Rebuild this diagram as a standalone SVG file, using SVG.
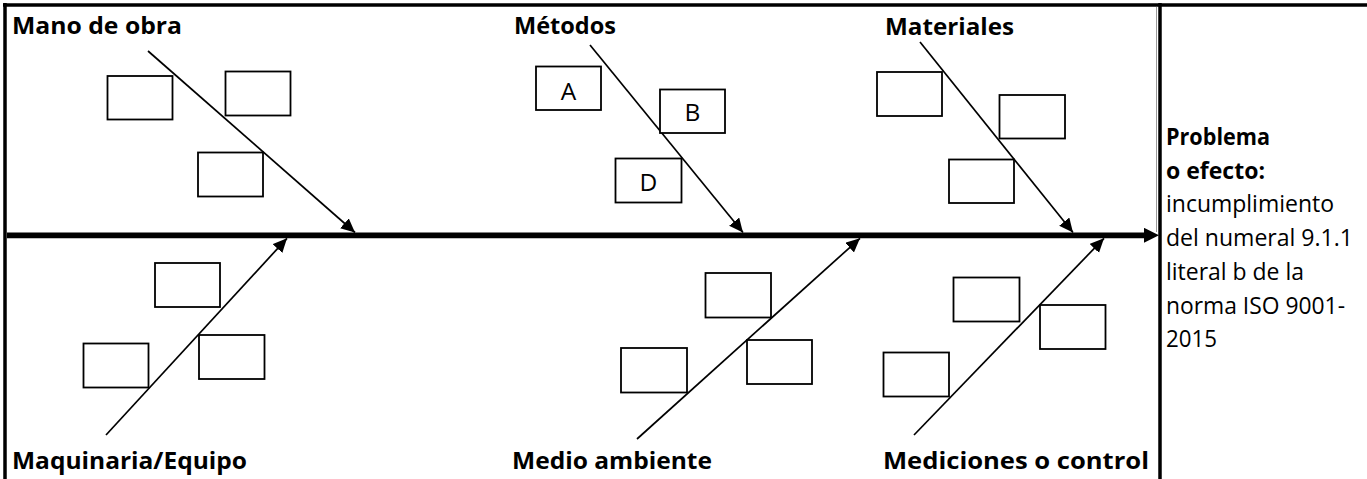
<svg xmlns="http://www.w3.org/2000/svg" width="1367" height="479" viewBox="0 0 1367 479">
<style>
.lbl{font-family:"Open Sans","Liberation Sans",sans-serif;font-weight:bold;font-size:23.5px;fill:#000}
.txt{font-family:"Open Sans","Liberation Sans",sans-serif;font-size:23px;fill:#000}
.let{font-family:"Open Sans","Liberation Sans",sans-serif;font-size:24.5px;fill:#000;text-anchor:middle}
.box{fill:#fff;stroke:#000;stroke-width:1.8}
.bone{stroke:#000;stroke-width:1.7;fill:none}
.frame{stroke:#000;stroke-width:3.5;fill:none}
</style>
<defs>
<marker id="ah" markerUnits="userSpaceOnUse" markerWidth="15" markerHeight="14" refX="14" refY="6.5" orient="auto">
<path d="M0,0 L14,6.5 L0,13 z" fill="#000"/>
</marker>
<marker id="sh" markerUnits="userSpaceOnUse" markerWidth="16" markerHeight="16" refX="2" refY="7.5" orient="auto">
<path d="M0,0 L15,7.5 L0,15 z" fill="#000"/>
</marker>
</defs>
<rect x="0" y="0" width="1367" height="479" fill="#fff"/>
<g id="frame">
<line class="frame" x1="3" y1="5" x2="1367" y2="5"/>
<line class="frame" x1="5" y1="3" x2="5" y2="479"/>
<line class="frame" x1="1160" y1="3" x2="1160" y2="479"/>
<line x1="1156.5" y1="7" x2="1156.5" y2="232" stroke="#9a9a9a" stroke-width="1"/>
</g>
<g id="connectors">
<line x1="7" y1="235.3" x2="1146" y2="235.3" stroke="#000" stroke-width="5.8" marker-end="url(#sh)"/>
<line class="bone" x1="148" y1="51" x2="355" y2="232.5" marker-end="url(#ah)"/>
<line class="bone" x1="590" y1="45" x2="743" y2="232.5" marker-end="url(#ah)"/>
<line class="bone" x1="920" y1="42" x2="1073" y2="232.5" marker-end="url(#ah)"/>
<line class="bone" x1="106" y1="435" x2="287" y2="238.3" marker-end="url(#ah)"/>
<line class="bone" x1="637" y1="439" x2="860" y2="238.3" marker-end="url(#ah)"/>
<line class="bone" x1="914" y1="435" x2="1104" y2="238.3" marker-end="url(#ah)"/>
</g>
<g id="mano-de-obra">
<text class="lbl" x="12" y="34" textLength="170" lengthAdjust="spacingAndGlyphs">Mano de obra</text>
<rect class="box" x="107.5" y="76" width="65" height="43.5"/>
<rect class="box" x="225.5" y="71.5" width="65" height="44"/>
<rect class="box" x="198" y="152.5" width="65" height="44"/>
</g>
<g id="metodos">
<text class="lbl" x="514" y="33.5" textLength="102" lengthAdjust="spacingAndGlyphs">Métodos</text>
<rect class="box" x="536" y="66.5" width="65" height="43.5"/>
<text class="let" x="568.5" y="99.5">A</text>
<rect class="box" x="660" y="89.5" width="65" height="43.5"/>
<text class="let" x="692.5" y="120.5">B</text>
<rect class="box" x="615.5" y="158.5" width="66" height="44"/>
<text class="let" x="648.5" y="190.5">D</text>
</g>
<g id="materiales">
<text class="lbl" x="885" y="34.5" textLength="129" lengthAdjust="spacingAndGlyphs">Materiales</text>
<rect class="box" x="877" y="72" width="65" height="44"/>
<rect class="box" x="999.5" y="95" width="65.5" height="43.5"/>
<rect class="box" x="949" y="159.5" width="65" height="43.5"/>
</g>
<g id="maquinaria-equipo">
<text class="lbl" x="12" y="469" textLength="235" lengthAdjust="spacingAndGlyphs">Maquinaria/Equipo</text>
<rect class="box" x="155" y="263" width="65" height="44"/>
<rect class="box" x="83.5" y="343.5" width="65" height="44"/>
<rect class="box" x="199" y="335" width="65.5" height="44"/>
</g>
<g id="medio-ambiente">
<text class="lbl" x="512" y="469" textLength="200" lengthAdjust="spacingAndGlyphs">Medio ambiente</text>
<rect class="box" x="705.5" y="273" width="65.5" height="44.5"/>
<rect class="box" x="621" y="348" width="66" height="44.5"/>
<rect class="box" x="747" y="340" width="65" height="44"/>
</g>
<g id="mediciones-o-control">
<text class="lbl" x="883" y="469" textLength="266" lengthAdjust="spacingAndGlyphs">Mediciones o control</text>
<rect class="box" x="953.5" y="277.5" width="66" height="44"/>
<rect class="box" x="1040" y="305" width="65.5" height="44"/>
<rect class="box" x="883.5" y="352.5" width="65.5" height="44"/>
</g>
<g id="problema">
<text class="lbl" x="1166" y="145" textLength="104" lengthAdjust="spacingAndGlyphs">Problema</text>
<text class="lbl" x="1166" y="178.7" textLength="99" lengthAdjust="spacingAndGlyphs">o efecto:</text>
<text class="txt" x="1166" y="212.4" textLength="168" lengthAdjust="spacingAndGlyphs">incumplimiento</text>
<text class="txt" x="1166" y="246.1" textLength="187" lengthAdjust="spacingAndGlyphs">del numeral 9.1.1</text>
<text class="txt" x="1166" y="279.8" textLength="138" lengthAdjust="spacingAndGlyphs">literal b de la</text>
<text class="txt" x="1166" y="313.5" textLength="179" lengthAdjust="spacingAndGlyphs">norma ISO 9001-</text>
<text class="txt" x="1166" y="347.2" textLength="51" lengthAdjust="spacingAndGlyphs">2015</text>
</g>
</svg>
